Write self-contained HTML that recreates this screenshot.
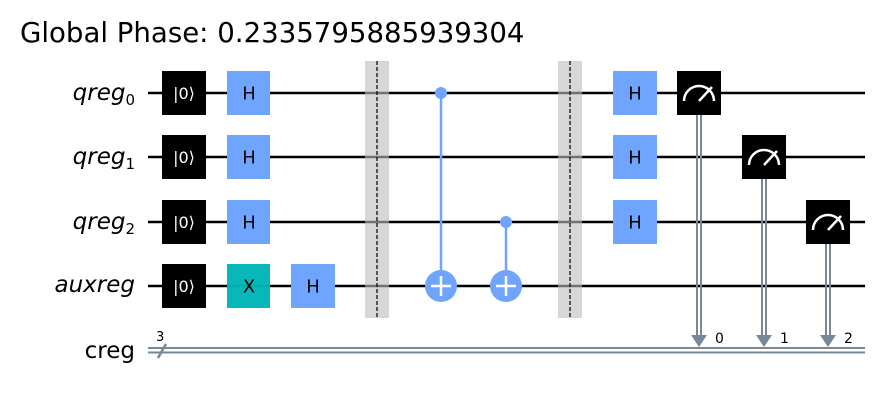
<!DOCTYPE html>
<html><head><meta charset="utf-8"><style>body{margin:0;background:#fff}svg{display:block;font-family:"DejaVu Sans","Liberation Sans",sans-serif}</style></head>
<body>
<svg width="890" height="409" viewBox="0 0 890 409">
<text x="20" y="42" font-size="27.6" fill="#000">Global Phase: 0.2335795885939304</text>
<g font-size="23" font-style="italic" text-anchor="end">
<text x="135" y="100">qreg<tspan font-size="15" dy="5" font-style="normal">0</tspan></text>
<text x="135" y="164">qreg<tspan font-size="15" dy="5" font-style="normal">1</tspan></text>
<text x="135" y="229">qreg<tspan font-size="15" dy="5" font-style="normal">2</tspan></text>
<text x="135" y="292">auxreg</text>
<text x="135" y="358" font-style="normal">creg</text>
</g>
<g stroke="#000" stroke-width="2.5">
<line x1="148" y1="93" x2="865" y2="93"/><line x1="148" y1="157" x2="865" y2="157"/>
<line x1="148" y1="222" x2="865" y2="222"/><line x1="148" y1="286" x2="865" y2="286"/>
</g>
<g stroke="#778899" stroke-width="2">
<line x1="148" y1="348" x2="865" y2="348"/><line x1="148" y1="352.5" x2="865" y2="352.5"/>
<line x1="158" y1="358" x2="166" y2="344" stroke-width="2.5"/>
</g>
<text x="156" y="341" font-size="13">3</text>
<g>
<rect x="365" y="61" width="24" height="257" fill="#bdbdbd" opacity="0.6"/>
<line x1="377" y1="61" x2="377" y2="318" stroke="#000" stroke-width="1.2" stroke-dasharray="4,2"/>
<rect x="558" y="61" width="24" height="257" fill="#bdbdbd" opacity="0.6"/>
<line x1="570" y1="61" x2="570" y2="318" stroke="#000" stroke-width="1.2" stroke-dasharray="4,2"/>
</g>
<g font-size="16" fill="#fff" text-anchor="middle">
<rect x="162" y="71" width="44" height="44" fill="#000"/><text x="184" y="99">|0⟩</text>
<rect x="162" y="135" width="44" height="44" fill="#000"/><text x="184" y="163">|0⟩</text>
<rect x="162" y="200" width="44" height="44" fill="#000"/><text x="184" y="228">|0⟩</text>
<rect x="162" y="264" width="44" height="44" fill="#000"/><text x="184" y="292">|0⟩</text>
</g>
<g font-size="18" fill="#000" text-anchor="middle">
<rect x="227" y="71" width="43" height="44" fill="#6fa4ff"/><text x="249" y="99.5">H</text>
<rect x="227" y="135" width="43" height="44" fill="#6fa4ff"/><text x="249" y="163.5">H</text>
<rect x="227" y="200" width="43" height="44" fill="#6fa4ff"/><text x="249" y="228.5">H</text>
<rect x="227" y="264" width="43" height="44" fill="#00b5b5" opacity="0.97"/><text x="249" y="292.5">X</text>
<rect x="291" y="264" width="44" height="44" fill="#6fa4ff"/><text x="313" y="292.5">H</text>
<rect x="613" y="71" width="44" height="44" fill="#6fa4ff"/><text x="635" y="99.5">H</text>
<rect x="613" y="135" width="44" height="44" fill="#6fa4ff"/><text x="635" y="163.5">H</text>
<rect x="613" y="200" width="44" height="44" fill="#6fa4ff"/><text x="635" y="228.5">H</text>
</g>
<g stroke="#6fa4ff" stroke-width="2.5" fill="#6fa4ff">
<line x1="441" y1="93" x2="441" y2="286"/><circle cx="441" cy="93" r="6" stroke="none"/>
<circle cx="441" cy="286" r="16" stroke="none"/>
<line x1="431" y1="286" x2="451" y2="286" stroke="#fff"/><line x1="441" y1="276" x2="441" y2="296" stroke="#fff"/>
<line x1="506" y1="222" x2="506" y2="286"/><circle cx="506" cy="222" r="6" stroke="none"/>
<circle cx="506" cy="286" r="16" stroke="none"/>
<line x1="496" y1="286" x2="516" y2="286" stroke="#fff"/><line x1="506" y1="276" x2="506" y2="296" stroke="#fff"/>
</g>
<g>
<g stroke="#778899" stroke-width="2">
<line x1="697" y1="115" x2="697" y2="336"/><line x1="701" y1="115" x2="701" y2="336"/>
<line x1="762" y1="179" x2="762" y2="336"/><line x1="766" y1="179" x2="766" y2="336"/>
<line x1="826" y1="244" x2="826" y2="336"/><line x1="830" y1="244" x2="830" y2="336"/>
</g>
<g fill="#778899"><polygon points="691,335 707,335 699,347"/><polygon points="756,335 772,335 764,347"/><polygon points="820,335 836,335 828,347"/></g>
<g font-size="14" fill="#000"><text x="715" y="343">0</text><text x="780" y="343">1</text><text x="844" y="343">2</text></g>
<rect x="677" y="71" width="44" height="44" fill="#000"/>
<rect x="742" y="135" width="44" height="44" fill="#000"/>
<rect x="806" y="200" width="44" height="44" fill="#000"/>
<g fill="none" stroke="#fff" stroke-width="2.5">
<path d="M684,101 A15,15 0 0 1 714,101"/><line x1="699" y1="101" x2="712" y2="87"/>
<path d="M749,165 A15,15 0 0 1 779,165"/><line x1="764" y1="165" x2="777" y2="151"/>
<path d="M813,230 A15,15 0 0 1 843,230"/><line x1="828" y1="230" x2="841" y2="216"/>
</g>
</g>
</svg>
</body></html>
